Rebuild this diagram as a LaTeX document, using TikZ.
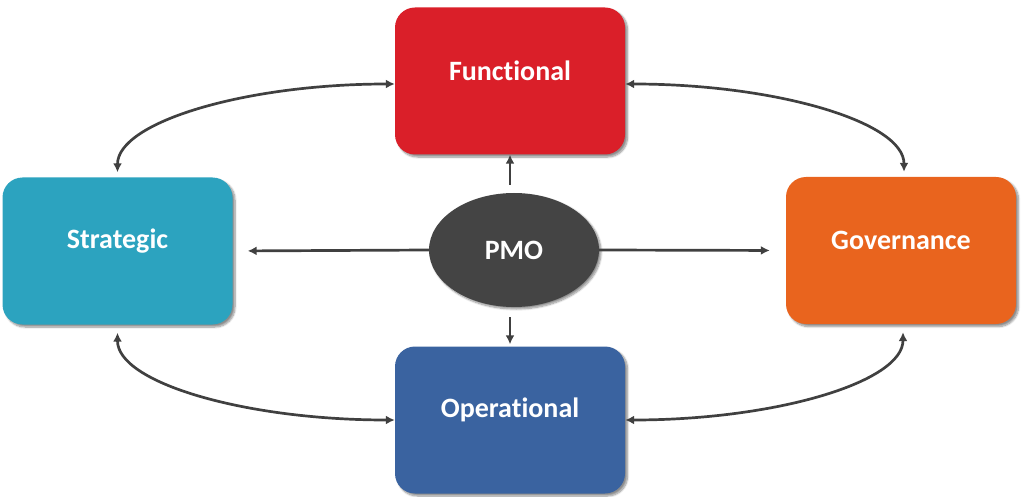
\documentclass[tikz,border=0pt]{standalone}
\usepackage{fontspec}
\setmainfont{Carlito}[Ligatures=NoCommon]
\usetikzlibrary{arrows.meta,shadows.blur,shapes.geometric,calc}
\definecolor{cred}{HTML}{DA1F29}
\definecolor{cteal}{HTML}{2CA3BF}
\definecolor{corange}{HTML}{E9641E}
\definecolor{cblue}{HTML}{3A63A0}
\definecolor{cpmo}{HTML}{444444}
\definecolor{cline}{HTML}{404040}
\begin{document}
\begin{tikzpicture}[x=1pt,y=-1pt,
  box/.style={rectangle,rounded corners=20pt,minimum width=230pt,minimum height=147pt,draw=none,inner sep=0pt,
    blur shadow={shadow xshift=2.5pt,shadow yshift=-2.5pt,shadow blur steps=8,shadow opacity=45}},
  lbl/.style={text=white,font=\fontsize{28}{34}\selectfont\bfseries,inner sep=0pt},
  dbl/.style={draw=cline,line width=2.7pt,{Latex[length=9pt,width=9pt]}-{Latex[length=9pt,width=9pt]}},
  sarr/.style={draw=cline,line width=2.7pt,-{Latex[length=9pt,width=9pt]}}]
\useasboundingbox (0,0) rectangle (1023,497);
\node[box,fill=cred] (F) at (510,81) {};
\node[box,fill=cteal] (S) at (117.5,251) {};
\node[box,fill=corange] (G) at (901,250.5) {};
\node[box,fill=cblue] (O) at (510,420) {};
\node[ellipse,fill=cpmo,minimum width=170pt,minimum height=114pt,inner sep=0pt,
  blur shadow={shadow xshift=2pt,shadow yshift=-2pt,shadow blur steps=8,shadow opacity=45}] (P) at (514,250) {};
\node[lbl] (Ft) at ([yshift=10pt]F.center) {Functional};
\node[lbl] (St) at ([yshift=10pt]S.center) {Strategic};
\node[lbl] (Gt) at ([yshift=10pt]G.center) {Governance};
\node[lbl] (Ot) at ([yshift=10pt]O.center) {Operational};
\node[lbl] (Pt) at (P.center) {PMO};
% straight arrows
\draw[sarr,shorten <=8pt] (P.north -| F.south) -- (F.south);
\draw[sarr,shorten <=10pt,shorten >=2pt] (P.south -| O.north) -- (O.north);
\draw[sarr,shorten >=15pt] (P.west) -- (S.east);
\draw[sarr,shorten >=16pt] (P.east) -- (G.west);
% curved double arrows
\draw[dbl] ([yshift=-3pt]F.west) .. controls +(-150,0) and +(0,-50) .. ([yshift=5pt]S.north);
\draw[dbl] ([yshift=-3pt]F.east) .. controls +(150,0) and +(0,-50) .. ([xshift=3pt,yshift=5pt]G.north);
\draw[dbl] ([yshift=-8pt]S.south) .. controls +(0,50) and +(-150,0) .. (O.west);
\draw[dbl] ([xshift=2pt,yshift=-8pt]G.south) .. controls +(0,50) and +(150,0) .. (O.east);
\end{tikzpicture}
\end{document}
